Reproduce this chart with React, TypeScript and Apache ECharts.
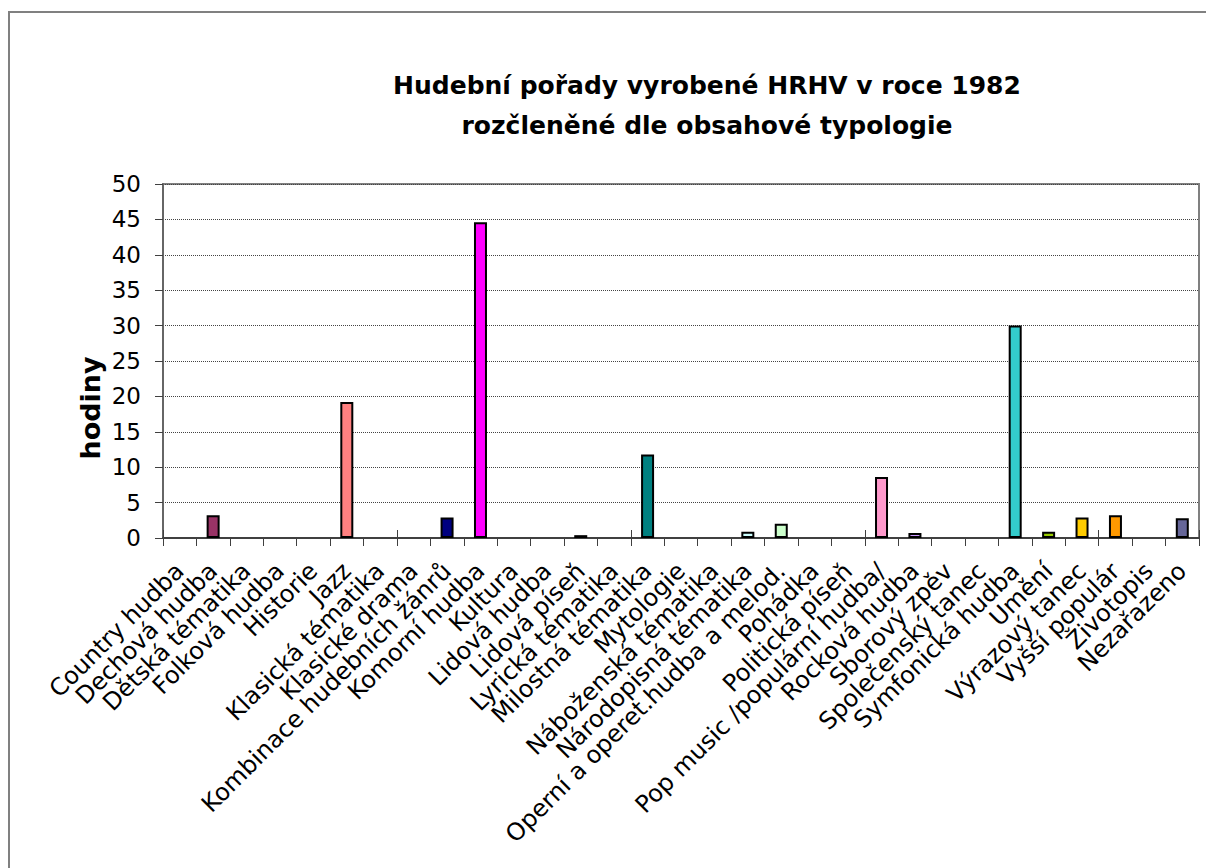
import React, { useEffect, useRef } from "react";
import * as echarts from "echarts";

const titleLines = ["Hudební pořady vyrobené HRHV v roce 1982", "rozčleněné dle obsahové typologie"];
const yAxisTitle = "hodiny";

const categories = [
  "Country hudba",
  "Dechová hudba",
  "Dětská tématika",
  "Folková hudba",
  "Historie",
  "Jazz",
  "Klasická tématika",
  "Klasické drama",
  "Kombinace hudebních žánrů",
  "Komorní hudba",
  "Kultura",
  "Lidová hudba",
  "Lidová píseň",
  "Lyrická tématika",
  "Milostná tématika",
  "Mytologie",
  "Náboženská tématika",
  "Národopisná tématika",
  "Operní a operet.hudba a melod.",
  "Pohádka",
  "Politická píseň",
  "Pop music /populární hudba/",
  "Rocková hudba",
  "Sborový zpěv",
  "Společenský tanec",
  "Symfonická hudba",
  "Umění",
  "Výrazový tanec",
  "Vyšší populár",
  "Životopis",
  "Nezařazeno",
];

const hours = [
  0, 3.2, 0, 0, 0, 19.2, 0, 0, 2.9, 44.6,
  0, 0, 0.4, 0, 11.8, 0, 0, 0.9, 2.0, 0,
  0, 8.6, 0.7, 0, 0, 30.0, 0.9, 2.9, 3.2, 0,
  2.8,
];

const barColors = [
  "#9999FF", "#993366", "#FFFFCC", "#CCFFFF", "#660066", "#FF8080", "#0066CC", "#CCCCFF",
  "#000080", "#FF00FF", "#FFFF00", "#00FFFF", "#800080", "#800000", "#008080", "#0000FF",
  "#00CCFF", "#CCFFFF", "#CCFFCC", "#FFFF99", "#99CCFF", "#FF99CC", "#CC99FF", "#FFCC99",
  "#3366FF", "#33CCCC", "#99CC00", "#FFCC00", "#FF9900", "#FF6600", "#666699",
];

const FONT = "'DejaVu Sans', 'Liberation Sans', Arial, sans-serif";

export default function App() {
  const ref = useRef<HTMLDivElement>(null);

  useEffect(() => {
    if (!ref.current) return;
    const chart = echarts.init(ref.current, undefined, { renderer: "svg" });

    const data = hours.map((v, i) => ({
      value: v,
      itemStyle: {
        color: barColors[i],
        borderColor: "#000000",
        borderWidth: v > 0 ? 2 : 0,
      },
    }));

    chart.setOption({
      animation: false,
      backgroundColor: "#ffffff",
      title: {
        text: titleLines.join("\n"),
        left: 702,
        top: 60,
        textAlign: "center",
        textStyle: {
          fontFamily: FONT,
          fontSize: 25,
          fontWeight: "bold",
          color: "#000000",
          lineHeight: 40,
        },
      },
      graphic: [
        {
          type: "rect",
          shape: { x: 9, y: 12, width: 1400, height: 1000 },
          style: { fill: "none", stroke: "#808080", lineWidth: 2 },
          silent: true,
          z: -10,
        },
        {
          type: "text",
          x: 90,
          y: 408,
          rotation: Math.PI / 2,
          style: {
            text: yAxisTitle,
            fontFamily: FONT,
            fontSize: 27,
            fontWeight: "bold",
            fill: "#000000",
            align: "center",
            verticalAlign: "middle",
          },
        },
      ],
      grid: {
        left: 163,
        top: 184,
        right: 7,
        bottom: 330,
        show: true,
        borderColor: "#808080",
        borderWidth: 2,
        backgroundColor: "#ffffff",
      },
      xAxis: [
        {
          type: "category",
          data: categories,
          position: "bottom",
          axisLine: { show: true, lineStyle: { color: "#404040", width: 2 } },
          axisTick: { show: true, inside: false, length: 8, lineStyle: { color: "#404040", width: 1 } },
          axisLabel: {
            interval: 0,
            rotate: 45,
            margin: 29,
            fontFamily: FONT,
            fontSize: 24,
            color: "#000000",
          },
          splitLine: { show: false },
        },
        {
          type: "category",
          data: categories,
          position: "bottom",
          axisLine: { show: false },
          axisTick: { show: true, inside: true, length: 8, lineStyle: { color: "#404040", width: 1 } },
          axisLabel: { show: false },
          splitLine: { show: false },
        },
      ],
      yAxis: {
        type: "value",
        min: 0,
        max: 50,
        interval: 5,
        axisLine: { show: true, lineStyle: { color: "#666666", width: 2 } },
        axisTick: { show: true, inside: false, length: 8, lineStyle: { color: "#404040" } },
        axisLabel: {
          margin: 22,
          fontFamily: FONT,
          fontSize: 23,
          color: "#000000",
        },
        splitLine: {
          show: true,
          lineStyle: { color: "#444444", type: "dotted", width: 1 },
        },
      },
      series: [
        {
          type: "bar",
          xAxisIndex: 0,
          data,
          barWidth: 13,
        },
      ],
    });

    return () => chart.dispose();
  }, []);

  return (
    <div
      ref={ref}
      style={{ position: "absolute", left: 0, top: 0, width: 1206, height: 868, background: "#fff" }}
    />
  );
}
